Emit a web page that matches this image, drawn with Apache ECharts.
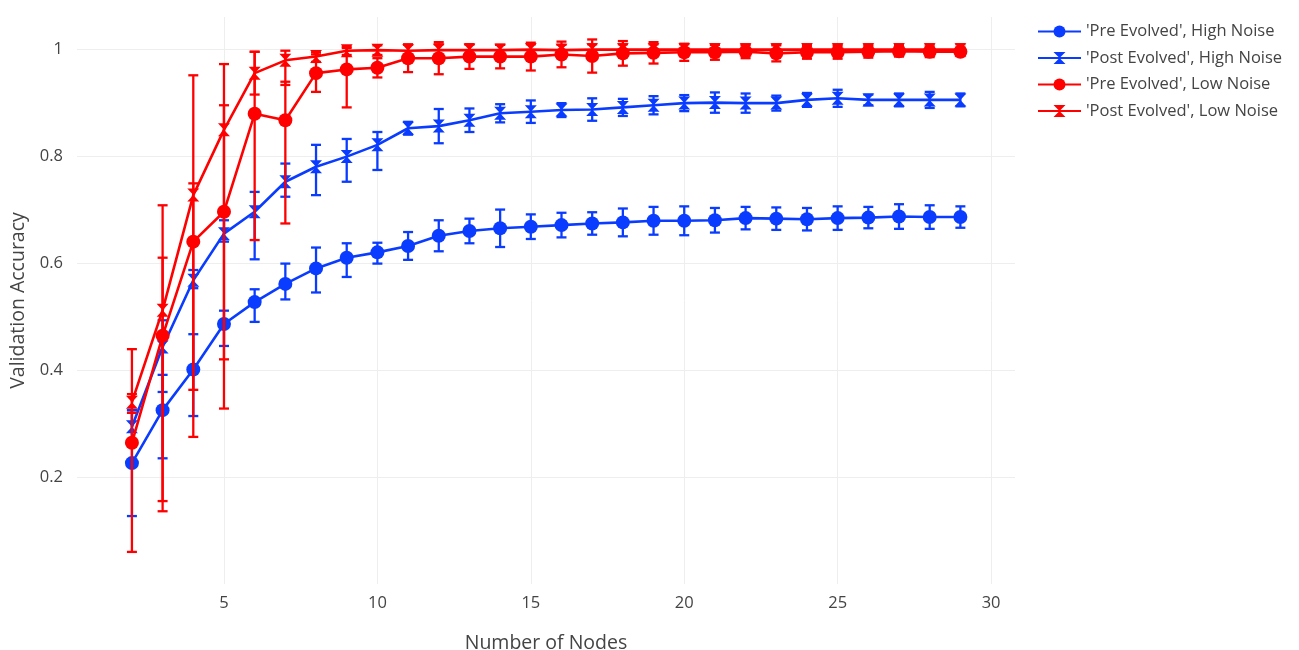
<!DOCTYPE html>
<html><head><meta charset="utf-8">
<script src="https://cdn.jsdelivr.net/npm/echarts@6/dist/echarts.min.js"></script>
<style>html,body{margin:0;padding:0;background:#fff}#c{width:1299px;height:650px}</style>
</head><body><div id="c"></div>
<script>
const nodes = [2,3,4,5,6,7,8,9,10,11,12,13,14,15,16,17,18,19,20,21,22,23,24,25,26,27,28,29];
const xTicks = [5,10,15,20,25,30];
const yTicks = [0.2,0.4,0.6,0.8,1];
const seriesNames = ["'Pre Evolved', High Noise", "'Post Evolved', High Noise", "'Pre Evolved', Low Noise", "'Post Evolved', Low Noise"];

const preHighVal   = [0.226,0.325,0.401,0.486,0.527,0.561,0.590,0.610,0.620,0.632,0.651,0.660,0.665,0.668,0.671,0.674,0.676,0.679,0.679,0.680,0.684,0.683,0.682,0.684,0.685,0.687,0.686,0.686];
const preHighPlus  = [0.099,0.066,0.066,0.025,0.024,0.038,0.039,0.027,0.018,0.026,0.029,0.023,0.035,0.023,0.023,0.021,0.026,0.026,0.027,0.023,0.021,0.021,0.021,0.022,0.020,0.023,0.022,0.020];
const preHighMinus = [0.099,0.090,0.087,0.041,0.037,0.029,0.045,0.036,0.021,0.026,0.029,0.023,0.035,0.023,0.023,0.021,0.026,0.026,0.027,0.023,0.021,0.021,0.021,0.022,0.020,0.023,0.022,0.020];

const postHighVal   = [0.294,0.443,0.568,0.655,0.696,0.752,0.780,0.799,0.821,0.852,0.856,0.867,0.880,0.883,0.886,0.887,0.891,0.895,0.899,0.900,0.899,0.899,0.905,0.908,0.905,0.905,0.905,0.905];
const postHighPlus  = [0.031,0.050,0.019,0.025,0.037,0.034,0.041,0.033,0.024,0.012,0.032,0.022,0.017,0.021,0.013,0.021,0.016,0.017,0.015,0.019,0.018,0.014,0.013,0.016,0.010,0.012,0.015,0.012];
const postHighMinus = [0.030,0.084,0.015,0.015,0.089,0.028,0.053,0.047,0.047,0.012,0.032,0.022,0.017,0.021,0.013,0.021,0.016,0.017,0.015,0.019,0.018,0.014,0.013,0.016,0.010,0.012,0.015,0.012];

const preLowVal   = [0.264,0.464,0.640,0.696,0.879,0.867,0.955,0.962,0.965,0.983,0.983,0.986,0.986,0.986,0.990,0.987,0.992,0.993,0.994,0.994,0.995,0.992,0.994,0.994,0.995,0.996,0.995,0.995];
const preLowPlus  = [0.175,0.244,0.311,0.276,0.116,0.072,0.035,0.040,0.018,0.026,0.030,0.023,0.022,0.026,0.024,0.031,0.023,0.020,0.016,0.014,0.012,0.015,0.012,0.012,0.011,0.010,0.010,0.008];
const preLowMinus = [0.204,0.328,0.365,0.368,0.236,0.193,0.035,0.071,0.018,0.026,0.030,0.023,0.022,0.026,0.024,0.031,0.023,0.020,0.016,0.014,0.012,0.015,0.012,0.012,0.011,0.010,0.010,0.008];

const postLowVal   = [0.340,0.512,0.727,0.849,0.955,0.979,0.986,0.997,0.998,0.997,0.998,0.998,0.998,0.999,0.998,0.999,0.999,0.999,0.999,0.999,0.999,0.999,0.999,0.999,0.999,0.999,0.999,0.999];
const postLowPlus  = [0.015,0.098,0.022,0.046,0.040,0.018,0.008,0.008,0.009,0.011,0.011,0.011,0.010,0.010,0.010,0.010,0.010,0.010,0.010,0.010,0.010,0.010,0.010,0.010,0.010,0.010,0.010,0.010];
const postLowMinus = [0.020,0.357,0.364,0.429,0.040,0.046,0.010,0.008,0.009,0.011,0.011,0.011,0.010,0.010,0.010,0.010,0.010,0.010,0.010,0.010,0.010,0.010,0.010,0.010,0.010,0.010,0.010,0.010];

const BLUE = '#0a3cff', RED = '#ff0000';
const FONT = 'Open Sans';
const HOURGLASS = 'path://M0,0L10,0L5,5L10,10L0,10L5,5Z';

const defs = [
  {name: seriesNames[0], val: preHighVal,  plus: preHighPlus,  minus: preHighMinus,  color: BLUE, symbol: 'circle',  size: 14},
  {name: seriesNames[1], val: postHighVal, plus: postHighPlus, minus: postHighMinus, color: BLUE, symbol: HOURGLASS, size: [12,13]},
  {name: seriesNames[2], val: preLowVal,   plus: preLowPlus,   minus: preLowMinus,   color: RED,  symbol: 'circle',  size: 14},
  {name: seriesNames[3], val: postLowVal,  plus: postLowPlus,  minus: postLowMinus,  color: RED,  symbol: HOURGLASS, size: [12,13]}
];

function errRender(color) {
  return function (params, api) {
    const x = api.value(0), lo = api.value(1), hi = api.value(2);
    const t = api.coord([x, hi]), b = api.coord([x, lo]);
    const w = 5;
    const style = {stroke: color, lineWidth: 2.3, fill: null};
    return {type: 'group', children: [
      {type: 'line', shape: {x1: t[0], y1: t[1], x2: b[0], y2: b[1]}, style: style},
      {type: 'line', shape: {x1: t[0]-w, y1: t[1], x2: t[0]+w, y2: t[1]}, style: style},
      {type: 'line', shape: {x1: b[0]-w, y1: b[1], x2: b[0]+w, y2: b[1]}, style: style}
    ]};
  };
}

const series = [];
defs.forEach(function (d, i) {
  series.push({
    name: d.name, type: 'line', z: 2*i+2,
    data: nodes.map(function (n, k) { return [n, d.val[k]]; }),
    symbol: d.symbol, symbolSize: d.size, showSymbol: true,
    lineStyle: {color: d.color, width: 2.6},
    itemStyle: {color: d.color},
    emphasis: {disabled: true}, animation: false
  });
});
defs.forEach(function (d, i) {
  series.push({
    name: 'err' + i, type: 'custom', z: 2*i+1,
    renderItem: errRender(d.color),
    encode: {x: 0, y: [1, 2]},
    data: nodes.map(function (n, k) { return [n, d.val[k] - d.minus[k], d.val[k] + d.plus[k]]; }),
    animation: false, silent: true
  });
});

const chart = echarts.init(document.getElementById('c'), null, {renderer: 'canvas'});
chart.setOption({
  backgroundColor: '#fff',
  animation: false,
  grid: {left: 77, right: 284, top: 17, bottom: 66, containLabel: false, outerBoundsMode: 'none'},
  legend: {
    orient: 'vertical', left: 1037, top: 23, padding: 0, itemWidth: 43, itemHeight: 15, itemGap: 9.5,
    data: seriesNames,
    textStyle: {fontFamily: FONT, fontSize: 16.5, color: '#444'}
  },
  xAxis: {
    type: 'value', min: 0.21, max: 30.78,
    name: 'Number of Nodes', nameLocation: 'middle', nameGap: 49,
    nameTextStyle: {fontFamily: FONT, fontSize: 19.5, color: '#444'},
    axisLine: {show: false},
    axisTick: {show: false, customValues: xTicks},
    axisLabel: {customValues: xTicks, fontFamily: FONT, fontSize: 16.5, color: '#444', margin: 11},
    splitLine: {show: true, lineStyle: {color: '#eeeeee', width: 1}}
  },
  yAxis: {
    type: 'value', min: 0, max: 1.06,
    name: 'Validation Accuracy', nameLocation: 'middle', nameGap: 45,
    nameTextStyle: {fontFamily: FONT, fontSize: 19.5, color: '#444'},
    axisLine: {show: false},
    axisTick: {show: false, customValues: yTicks},
    axisLabel: {customValues: yTicks, fontFamily: FONT, fontSize: 16.5, color: '#444', margin: 14,
      formatter: function (v) { return String(+v.toFixed(2)); }},
    splitLine: {show: true, lineStyle: {color: '#eeeeee', width: 1}}
  },
  series: series
});
</script>
</body></html>
